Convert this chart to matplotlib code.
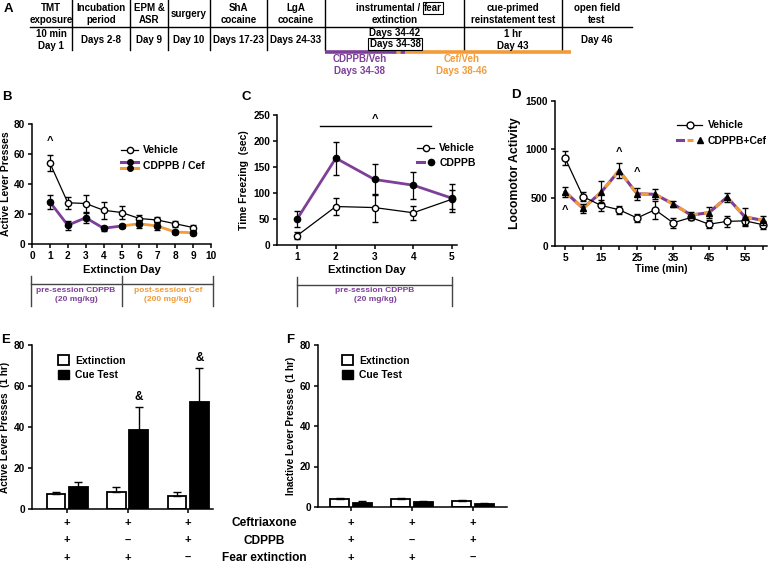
import matplotlib
matplotlib.use("Agg")
import matplotlib.pyplot as plt
from matplotlib.lines import Line2D
from matplotlib.patches import Patch
from matplotlib.legend_handler import HandlerBase, HandlerTuple
from matplotlib import transforms

plt.rcParams["font.family"] = ["Liberation Sans", "DejaVu Sans"]
plt.rcParams["font.weight"] = "bold"
plt.rcParams["axes.labelweight"] = "bold"
plt.rcParams["font.size"] = 7
plt.rcParams["axes.linewidth"] = 1.1
plt.rcParams["xtick.major.width"] = 1.1
plt.rcParams["ytick.major.width"] = 1.1
plt.rcParams["xtick.major.size"] = 3
plt.rcParams["ytick.major.size"] = 3

W, H = 775, 565
PURPLE = "#7d3f98"
ORANGE = "#f29b38"

# ---- data ----
# panel A timeline
tl_heads = ["TMT\nexposure", "Incubation\nperiod", "EPM &\nASR", "surgery", "ShA\ncocaine",
            "LgA\ncocaine", "", "cue-primed\nreinstatement test", "open field\ntest"]
tl_days = ["10 min\nDay 1", "Days 2-8", "Day 9", "Day 10", "Days 17-23", "Days 24-33",
           "", "1 hr\nDay 43", "Day 46"]

# panel B
ext_days = [1, 2, 3, 4, 5, 6, 7, 8, 9]
b_veh = [54, 27.5, 27, 22.5, 21, 17, 16, 13.5, 11]
b_veh_err = [5.5, 4, 5.5, 5.5, 4.5, 2.5, 2, 2, 2]
b_drug = [28, 12.5, 17.5, 10.5, 12, 13.5, 12, 8, 7.5]
b_drug_err = [4.5, 3, 3.5, 1.5, 1.5, 2.5, 2.5, 1.5, 1.5]

# panel C
c_days = [1, 2, 3, 4, 5]
c_veh = [18, 74, 72, 62, 88]
c_veh_err = [7, 17, 27, 13, 18]
c_cdppb = [50, 167, 126, 115, 90]
c_cdppb_err = [16, 32, 30, 26, 27]

# panel D
d_time = [5, 10, 15, 20, 25, 30, 35, 40, 45, 50, 55, 60]
d_veh = [910, 510, 420, 375, 290, 375, 240, 295, 225, 255, 260, 220]
d_veh_err = [70, 45, 60, 40, 45, 95, 50, 30, 40, 55, 40, 40]
d_drug = [560, 390, 555, 780, 540, 535, 435, 320, 345, 505, 300, 265]
d_drug_err = [50, 45, 115, 75, 65, 50, 30, 30, 60, 45, 90, 45]

# panels E, F
groups = [0, 1, 2]
e_ext = [7.5, 8.5, 6.5]
e_ext_err = [1, 2, 2]
e_cue = [10.5, 38.5, 52]
e_cue_err = [2.5, 11.5, 17]
f_ext = [4.0, 3.8, 2.8]
f_ext_err = [0.6, 0.6, 0.5]
f_cue = [2.2, 2.5, 1.6]
f_cue_err = [0.6, 0.5, 0.3]
cond_names = ["Ceftriaxone", "CDPPB", "Fear extinction"]
cond_signs = [["+", "+", "+"], ["+", "\u2013", "+"], ["+", "+", "\u2013"]]


fig = plt.figure(figsize=(W / 100, H / 100), dpi=100)


def ax_px(l, t, r, b):
    ax = fig.add_axes([l / W, 1 - b / H, (r - l) / W, (b - t) / H])
    ax.spines["top"].set_visible(False)
    ax.spines["right"].set_visible(False)
    ax.tick_params(labelsize=7.3, pad=2)
    return ax


def ftext(x, y, s, **kw):
    kw.setdefault("ha", "center")
    kw.setdefault("va", "center")
    return fig.text(x / W, 1 - y / H, s, **kw)


# ---- A: timeline drawn on a pixel overlay ----
ov = fig.add_axes([0, 0, 1, 1])
ov.set_xlim(0, W)
ov.set_ylim(H, 0)
ov.axis("off")
edges = [30, 72, 130, 168, 210, 267, 325, 464, 562, 632]
for x in edges[1:-1]:
    ov.plot([x, x], [0, 50], color="black", lw=1)
ov.plot([edges[0], edges[-1]], [27, 27], color="black", lw=1)
for i in range(len(tl_heads)):
    cx = (edges[i] + edges[i + 1]) / 2
    if tl_heads[i]:
        ftext(cx, 14, tl_heads[i], fontsize=7, linespacing=1.3)
        ftext(cx, 40, tl_days[i], fontsize=7, linespacing=1.3)
ftext(420, 8, "instrumental /", fontsize=7, ha="right")
ftext(424, 8, "fear", fontsize=7, ha="left",
      bbox=dict(boxstyle="square,pad=0.12", fc="white", ec="black", lw=0.8))
ftext(395, 20, "extinction", fontsize=7)
ftext(395, 33, "Days 34-42", fontsize=7)
ftext(395, 44, "Days 34-38", fontsize=7,
      bbox=dict(boxstyle="square,pad=0.12", fc="white", ec="black", lw=0.8))
ov.plot([325, 392], [51.5, 51.5], color=PURPLE, lw=2.6, solid_capstyle="butt")
ov.plot([392, 571], [51.5, 51.5], color=ORANGE, lw=2.6, solid_capstyle="butt")
ov.plot([392, 407], [51.5, 51.5], color=PURPLE, lw=2.6, ls=(0, (1.2, 1.2)))
ftext(360, 65, "CDPPB/Veh\nDays 34-38", color=PURPLE, fontsize=7, linespacing=1.2)
ftext(462, 65, "Cef/Veh\nDays 38-46", color=ORANGE, fontsize=7, linespacing=1.2)

# panel letters
for s, x, y in [("A", 8, 9), ("B", 7, 97), ("C", 246, 97), ("D", 516, 95),
                ("E", 6, 340), ("F", 290, 340)]:
    ftext(x, y, s, fontsize=9.5)


class TwoLineHandler(HandlerBase):
    def create_artists(self, legend, orig, xd, yd, w, h, fontsize, trans):
        arts = []
        for frac, c in [(0.95, PURPLE), (0.05, ORANGE)]:
            y = -yd + h * frac
            arts.append(Line2D([-xd, -xd + w], [y, y], color=c, lw=2.2, transform=trans))
            arts.append(Line2D([-xd + w / 2], [y], marker="o", color="black", ms=4, transform=trans))
        return arts


# ---- B ----
axb = ax_px(32, 124, 211, 244)
axb.errorbar(ext_days, b_veh, yerr=b_veh_err, color="black", lw=0.9, marker="o", ms=4.5,
             mfc="white", mec="black", capsize=2.5, elinewidth=0.9, zorder=3)
axb.plot(ext_days[:5], b_drug[:5], color=PURPLE, lw=2, zorder=2)
axb.plot(ext_days[4:], b_drug[4:], color=ORANGE, lw=2, zorder=2)
axb.errorbar(ext_days, b_drug, yerr=b_drug_err, color="black", ls="none", marker="o", ms=4.5,
             capsize=2.5, elinewidth=0.9, zorder=4)
axb.text(1, 69, "^", ha="center", va="center", fontsize=8)
axb.set_xlim(0, 10)
axb.set_ylim(0, 80)
axb.set_xticks(range(0, 11))
axb.set_yticks([0, 20, 40, 60, 80])
axb.set_xlabel("Extinction Day", fontsize=8, labelpad=3)
axb.set_ylabel("Active Lever Presses", fontsize=7.5, labelpad=2)
axb.legend([Line2D([], [], color="black", lw=0.9, marker="o", mfc="white", ms=4.5), "dummy"],
           ["Vehicle", "CDPPB / Cef"], handler_map={str: TwoLineHandler()},
           loc="upper left", bbox_to_anchor=(112 / W, 1 - 136 / H), bbox_transform=fig.transFigure,
           frameon=False, fontsize=7.5, handlelength=1.6, handletextpad=0.5, labelspacing=0.5)

# bracket under B
ov.plot([31, 213], [284, 284], color="#444444", lw=1)
for x in [31, 122, 213]:
    ov.plot([x, x], [276, 306], color="#444444", lw=1)
ftext(76, 295, "pre-session CDPPB\n(20 mg/kg)", color=PURPLE, fontsize=6, linespacing=1.3)
ftext(168, 295, "post-session Cef\n(200 mg/kg)", color=ORANGE, fontsize=6, linespacing=1.3)

# ---- C ----
axc = ax_px(277, 115, 457, 245)
axc.errorbar(c_days, c_veh, yerr=c_veh_err, color="black", lw=0.9, marker="o", ms=4.5,
             mfc="white", mec="black", capsize=2.5, elinewidth=0.9, zorder=3)
axc.plot(c_days, c_cdppb, color=PURPLE, lw=2, zorder=2)
axc.errorbar(c_days, c_cdppb, yerr=c_cdppb_err, color="black", ls="none", marker="o", ms=4.5,
             capsize=2.5, elinewidth=0.9, zorder=4)
axc.plot([1.6, 4.45], [229, 229], color="black", lw=1)
axc.text(3, 243, "^", ha="center", va="center", fontsize=8)
axc.set_xlim(0.48, 5.13)
axc.set_ylim(0, 250)
axc.set_xticks(c_days)
axc.set_yticks([0, 50, 100, 150, 200, 250])
axc.set_xlabel("Extinction Day", fontsize=8, labelpad=2)
axc.set_ylabel("Time Freezing  (sec)", fontsize=7.5, labelpad=3)
axc.legend([Line2D([], [], color="black", lw=0.9, marker="o", mfc="white", ms=4.5),
            (Line2D([], [], color=PURPLE, lw=2.2), Line2D([], [], color="black", marker="o", ls="none", ms=4.5))],
           ["Vehicle", "CDPPB"], handler_map={tuple: HandlerTuple(ndivide=None)},
           loc="upper left", bbox_to_anchor=(408 / W, 1 - 134 / H), bbox_transform=fig.transFigure,
           frameon=False, fontsize=7.5, handlelength=1.6, handletextpad=0.5, labelspacing=0.4)

ov.plot([297, 452], [285, 285], color="#444444", lw=1)
for x in [297, 452]:
    ov.plot([x, x], [277, 306], color="#444444", lw=1)
ftext(375, 295, "pre-session CDPPB\n(20 mg/kg)", color=PURPLE, fontsize=6, linespacing=1.3)

# ---- D ----
axd = ax_px(555, 101, 767, 246)
axd.errorbar(d_time, d_veh, yerr=d_veh_err, color="black", lw=0.9, marker="o", ms=5,
             mfc="white", mec="black", capsize=2.5, elinewidth=0.9, zorder=3)
axd.plot(d_time, d_drug, color=PURPLE, lw=2.2, zorder=2)
axd.plot(d_time, d_drug, color=ORANGE, lw=2.2, ls=(0, (2.5, 2)), zorder=2)
axd.errorbar(d_time, d_drug, yerr=d_drug_err, color="black", ls="none", marker="^", ms=5,
             capsize=2.5, elinewidth=0.9, zorder=4)
for x, y in [(5, 372), (20, 975), (25, 765)]:
    axd.text(x, y, "^", ha="center", va="center", fontsize=8)
axd.set_xlim(2.2, 61.1)
axd.set_ylim(0, 1500)
axd.set_xticks(d_time)
axd.set_xticklabels([str(t) if t % 10 == 5 else "" for t in d_time])
axd.set_yticks([0, 500, 1000, 1500])
axd.set_xlabel("Time (min)", fontsize=7.5, labelpad=1)
axd.set_ylabel("Locomotor Activity", fontsize=8.8, labelpad=3)
axd.legend([Line2D([], [], color="black", lw=0.9, marker="o", mfc="white", ms=5),
            (Line2D([], [], color=PURPLE, lw=2.2), Line2D([], [], color=ORANGE, lw=2.2, ls=(0, (2.5, 2))),
             Line2D([], [], color="black", marker="^", ls="none", ms=5))],
           ["Vehicle", "CDPPB+Cef"], handler_map={tuple: HandlerTuple(ndivide=None)},
           loc="upper left", bbox_to_anchor=(668 / W, 1 - 111 / H), bbox_transform=fig.transFigure,
           frameon=False, fontsize=7.5, handlelength=2.4, handletextpad=0.5, labelspacing=0.5)


# ---- E, F ----
def bar_panel(ax, ext, ext_err, cue, cue_err, ylabel, legend_x):
    off, bw = 0.185, 0.31
    xs = [g - off for g in groups]
    xc = [g + off for g in groups]
    ax.bar(xs, ext, width=bw, color="white", edgecolor="black", lw=1.3)
    ax.bar(xc, cue, width=bw, color="black", edgecolor="black", lw=1.3)
    ax.errorbar(xs, ext, yerr=[[0] * 3, ext_err], ls="none", color="black", capsize=3, elinewidth=1)
    ax.errorbar(xc, cue, yerr=[[0] * 3, cue_err], ls="none", color="black", capsize=3, elinewidth=1)
    ax.set_ylim(0, 80)
    ax.set_yticks([0, 20, 40, 60, 80])
    ax.set_xticks(groups)
    ax.set_xticklabels([])
    ax.set_ylabel(ylabel, fontsize=7.2, labelpad=3)
    ax.legend([Patch(fc="white", ec="black", lw=1.3), Patch(fc="black", ec="black")],
              ["Extinction", "Cue Test"], loc="upper left",
              bbox_to_anchor=(legend_x / W, 1 - 346 / H), bbox_transform=fig.transFigure,
              frameon=False, fontsize=7.5, handlelength=1.0, handleheight=1.0,
              handletextpad=0.6, labelspacing=0.4)
    tr = transforms.blended_transform_factory(ax.transData, fig.transFigure)
    for r, row in enumerate(cond_signs):
        for g, s in zip(groups, row):
            ax.text(g, 1 - (523 + 17.5 * r) / H, s, transform=tr, ha="center", va="center",
                    fontsize=8, clip_on=False)


axe = ax_px(32, 345, 213, 509)
axe.set_xlim(-0.58, 2.41)
bar_panel(axe, e_ext, e_ext_err, e_cue, e_cue_err, "Active Lever Presses  (1 hr)", 49)
for g in [1, 2]:
    axe.text(g + 0.185, e_cue[g] + e_cue_err[g] + 4.5, "&", ha="center", va="center", fontsize=8.5)

axf = ax_px(318, 345, 507, 507)
axf.set_xlim(-0.54, 2.56)
bar_panel(axf, f_ext, f_ext_err, f_cue, f_cue_err, "Inactive Lever Presses  (1 hr)", 333)

for r, name in enumerate(cond_names):
    ftext(264, 523 + 17.5 * r, name, fontsize=8.6)

fig.savefig("out.png", dpi=100)
